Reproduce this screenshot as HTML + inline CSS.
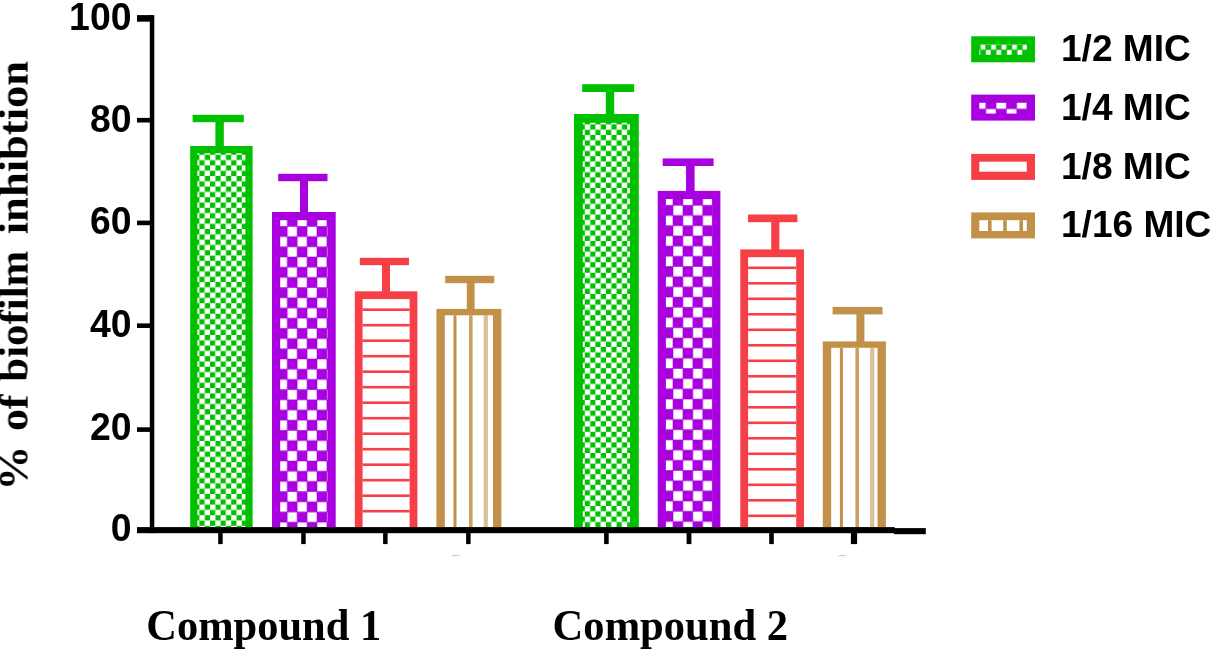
<!DOCTYPE html>
<html><head><meta charset="utf-8"><title>Biofilm inhibition</title>
<style>
html,body{margin:0;padding:0;background:#fff;}
svg{display:block}
.s{font-family:"Liberation Sans",sans-serif;font-weight:bold;fill:#000}
.t{font-family:"Liberation Serif",serif;font-weight:bold;fill:#000}
</style></head><body>
<svg width="1213" height="649" viewBox="0 0 1213 649">
<defs>
<filter id="bl" x="-5%" y="-5%" width="110%" height="110%"><feGaussianBlur stdDeviation="0.6"/></filter>
<filter id="bt" x="-5%" y="-5%" width="110%" height="110%"><feGaussianBlur stdDeviation="0.75"/></filter>
</defs>
<rect width="1213" height="649" fill="#fff"/>
<g filter="url(#bl)">

<rect x="190.2" y="146.0" width="62.4" height="381.5" fill="#00c000"/>
<pattern id="p1" patternUnits="userSpaceOnUse" width="10.6" height="10.6" patternTransform="translate(199.4,154.8)"><rect x="-0.10000000000000009" y="-0.10000000000000009" width="5.5" height="5.5" fill="#fff"/><rect x="5.199999999999999" y="5.199999999999999" width="5.5" height="5.5" fill="#fff"/></pattern>
<rect x="197.4" y="153.2" width="48.0" height="374.3" fill="url(#p1)"/>
<rect x="192.6" y="114.8" width="51.2" height="7.4" fill="#00c000"/>
<rect x="215.4" y="117.8" width="8.4" height="29.2" fill="#00c000"/>
<rect x="272.0" y="212.0" width="63.7" height="315.5" fill="#a906e0"/>
<pattern id="p2" patternUnits="userSpaceOnUse" width="19.8" height="20.4" patternTransform="translate(277.4,216.2)"><rect x="0.3" y="0.3" width="9.3" height="9.6" fill="#fff"/><rect x="10.200000000000001" y="10.5" width="9.3" height="9.6" fill="#fff"/></pattern>
<rect x="280.2" y="220.2" width="47.3" height="307.3" fill="url(#p2)"/>
<rect x="278.2" y="173.8" width="49.3" height="7.4" fill="#a906e0"/>
<rect x="300.0" y="176.8" width="8.0" height="36.2" fill="#a906e0"/>
<rect x="354.8" y="291.3" width="62.6" height="236.2" fill="#f54046"/>
<rect x="362.6" y="299.1" width="47.0" height="228.4" fill="#fff"/>
<rect x="362.6" y="308.4" width="47.0" height="2.6" fill="#f54046"/>
<rect x="362.6" y="323.9" width="47.0" height="2.6" fill="#f54046"/>
<rect x="362.6" y="339.4" width="47.0" height="2.6" fill="#f54046"/>
<rect x="362.6" y="354.9" width="47.0" height="2.6" fill="#f54046"/>
<rect x="362.6" y="370.4" width="47.0" height="2.6" fill="#f54046"/>
<rect x="362.6" y="385.9" width="47.0" height="2.6" fill="#f54046"/>
<rect x="362.6" y="401.4" width="47.0" height="2.6" fill="#f54046"/>
<rect x="362.6" y="416.9" width="47.0" height="2.6" fill="#f54046"/>
<rect x="362.6" y="432.4" width="47.0" height="2.6" fill="#f54046"/>
<rect x="362.6" y="447.9" width="47.0" height="2.6" fill="#f54046"/>
<rect x="362.6" y="463.4" width="47.0" height="2.6" fill="#f54046"/>
<rect x="362.6" y="478.9" width="47.0" height="2.6" fill="#f54046"/>
<rect x="362.6" y="494.4" width="47.0" height="2.6" fill="#f54046"/>
<rect x="362.6" y="509.9" width="47.0" height="2.6" fill="#f54046"/>
<rect x="359.8" y="257.8" width="49.2" height="7.4" fill="#f54046"/>
<rect x="382.0" y="260.8" width="8.0" height="31.5" fill="#f54046"/>
<rect x="436.4" y="308.9" width="65.0" height="218.6" fill="#c1914a"/>
<rect x="444.8" y="315.3" width="48.2" height="212.2" fill="#fff"/>
<rect x="453.5" y="315.3" width="3.0" height="212.2" fill="#c1914a" opacity="1.0"/>
<rect x="469.0" y="315.3" width="3.6" height="212.2" fill="#c1914a" opacity="0.85"/>
<rect x="483.7" y="315.3" width="4.2" height="212.2" fill="#c1914a" opacity="0.58"/>
<rect x="445.2" y="275.8" width="49.1" height="7.4" fill="#c1914a"/>
<rect x="466.8" y="278.8" width="7.8" height="31.1" fill="#c1914a"/>
<rect x="574.0" y="114.0" width="64.8" height="413.5" fill="#00c000"/>
<pattern id="p5" patternUnits="userSpaceOnUse" width="10.6" height="10.6" patternTransform="translate(584.8,124.4)"><rect x="-0.10000000000000009" y="-0.10000000000000009" width="5.5" height="5.5" fill="#fff"/><rect x="5.199999999999999" y="5.199999999999999" width="5.5" height="5.5" fill="#fff"/></pattern>
<rect x="582.8" y="122.8" width="47.2" height="404.7" fill="url(#p5)"/>
<rect x="582.2" y="84.2" width="52.0" height="7.8" fill="#00c000"/>
<rect x="605.8" y="87.2" width="8.4" height="27.8" fill="#00c000"/>
<rect x="657.7" y="190.9" width="62.7" height="336.6" fill="#a906e0"/>
<pattern id="p6" patternUnits="userSpaceOnUse" width="19.8" height="20.4" patternTransform="translate(663.1,195.1)"><rect x="0.3" y="0.3" width="9.3" height="9.6" fill="#fff"/><rect x="10.200000000000001" y="10.5" width="9.3" height="9.6" fill="#fff"/></pattern>
<rect x="665.9" y="199.1" width="46.3" height="328.4" fill="url(#p6)"/>
<rect x="662.7" y="158.4" width="50.9" height="7.6" fill="#a906e0"/>
<rect x="686.0" y="161.4" width="8.6" height="30.5" fill="#a906e0"/>
<rect x="740.3" y="249.4" width="63.7" height="278.1" fill="#f54046"/>
<rect x="748.1" y="257.2" width="48.1" height="270.3" fill="#fff"/>
<rect x="748.1" y="266.5" width="48.1" height="2.6" fill="#f54046"/>
<rect x="748.1" y="282.0" width="48.1" height="2.6" fill="#f54046"/>
<rect x="748.1" y="297.5" width="48.1" height="2.6" fill="#f54046"/>
<rect x="748.1" y="313.0" width="48.1" height="2.6" fill="#f54046"/>
<rect x="748.1" y="328.5" width="48.1" height="2.6" fill="#f54046"/>
<rect x="748.1" y="344.0" width="48.1" height="2.6" fill="#f54046"/>
<rect x="748.1" y="359.5" width="48.1" height="2.6" fill="#f54046"/>
<rect x="748.1" y="375.0" width="48.1" height="2.6" fill="#f54046"/>
<rect x="748.1" y="390.5" width="48.1" height="2.6" fill="#f54046"/>
<rect x="748.1" y="406.0" width="48.1" height="2.6" fill="#f54046"/>
<rect x="748.1" y="421.5" width="48.1" height="2.6" fill="#f54046"/>
<rect x="748.1" y="437.0" width="48.1" height="2.6" fill="#f54046"/>
<rect x="748.1" y="452.5" width="48.1" height="2.6" fill="#f54046"/>
<rect x="748.1" y="468.0" width="48.1" height="2.6" fill="#f54046"/>
<rect x="748.1" y="483.5" width="48.1" height="2.6" fill="#f54046"/>
<rect x="748.1" y="499.0" width="48.1" height="2.6" fill="#f54046"/>
<rect x="748.1" y="514.5" width="48.1" height="2.6" fill="#f54046"/>
<rect x="748.0" y="214.5" width="49.4" height="7.7" fill="#f54046"/>
<rect x="771.2" y="217.5" width="8.2" height="32.9" fill="#f54046"/>
<rect x="822.8" y="341.4" width="63.1" height="186.1" fill="#c1914a"/>
<rect x="831.2" y="347.8" width="46.3" height="179.7" fill="#fff"/>
<rect x="839.9" y="347.8" width="3.0" height="179.7" fill="#c1914a" opacity="1.0"/>
<rect x="855.4" y="347.8" width="3.6" height="179.7" fill="#c1914a" opacity="0.85"/>
<rect x="870.1" y="347.8" width="4.2" height="179.7" fill="#c1914a" opacity="0.58"/>
<rect x="832.6" y="306.9" width="49.9" height="7.5" fill="#c1914a"/>
<rect x="856.4" y="309.9" width="8.0" height="32.5" fill="#c1914a"/>
<g fill="#000">
<rect x="149.8" y="15.1" width="4.5" height="518"/>
<rect x="137" y="527.1" width="757.6" height="6.1"/>
<rect x="894" y="528.1" width="31.8" height="6.1"/>
<rect x="137" y="15.1" width="15" height="6.6"/>
<rect x="137" y="117.9" width="14" height="4.6"/>
<rect x="137" y="220.6" width="14" height="4.6"/>
<rect x="137" y="323.4" width="14" height="4.6"/>
<rect x="137" y="427.3" width="14" height="4.6"/>
<rect x="218.2" y="530" width="4.5" height="14.1"/>
<rect x="301.2" y="530" width="4.5" height="14.1"/>
<rect x="383.1" y="530" width="4.5" height="14.1"/>
<rect x="466.1" y="530" width="4.5" height="14.1"/>
<rect x="604.1" y="530" width="4.6" height="14.1"/>
<rect x="686.6" y="530" width="4.8" height="14.1"/>
<rect x="769.2" y="530" width="4.6" height="14.1"/>
<rect x="850.9" y="530" width="6.2" height="14.1"/>
</g>
<rect x="452" y="555" width="7.5" height="1.2" fill="#ccc"/>
<rect x="838.5" y="555" width="7.5" height="1.2" fill="#ccc"/>
<rect x="971.2" y="36.3" width="63.8" height="26" fill="#00c000"/>
<pattern id="l0" patternUnits="userSpaceOnUse" width="10.5" height="10.5" patternTransform="translate(980.4,44.4)"><rect x="0.3" y="0.3" width="4.7" height="4.9" fill="#fff"/><rect x="5.55" y="5.55" width="4.7" height="4.9" fill="#fff"/></pattern>
<rect x="979.3" y="44.1" width="47.5" height="10.8" fill="url(#l0)"/>
<rect x="971.2" y="94.6" width="63.8" height="26" fill="#a906e0"/>
<pattern id="l1" patternUnits="userSpaceOnUse" width="20.6" height="20.4" patternTransform="translate(975.5,98.7)"><rect x="0.3" y="0" width="9.7" height="10" fill="#fff"/><rect x="10.6" y="10.4" width="9.7" height="10" fill="#fff"/></pattern>
<rect x="979.3" y="102.8" width="47.5" height="10.8" fill="url(#l1)"/>
<rect x="971.2" y="153.9" width="63.8" height="26" fill="#f54046"/>
<rect x="979.3" y="161.7" width="47.5" height="10.0" fill="#fff"/>
<rect x="971.2" y="212.4" width="63.8" height="26" fill="#c1914a"/>
<rect x="979.3" y="220.2" width="47.5" height="10.8" fill="#fff"/>
<rect x="988.0" y="220.2" width="3.6" height="10.8" fill="#c1914a"/>
<rect x="1003.2" y="220.2" width="3.6" height="10.8" fill="#c1914a"/>
<rect x="1019.4" y="220.2" width="3.6" height="10.8" fill="#c1914a"/>
</g>
<g filter="url(#bt)">
<text class="s" transform="translate(131.5,541.0) scale(1,1.045)" font-size="37.4" text-anchor="end">0</text>
<text class="s" transform="translate(131.5,439.7) scale(1,1.045)" font-size="37.4" text-anchor="end">20</text>
<text class="s" transform="translate(131.5,337.2) scale(1,1.045)" font-size="37.4" text-anchor="end">40</text>
<text class="s" transform="translate(131.5,234.0) scale(1,1.045)" font-size="37.4" text-anchor="end">60</text>
<text class="s" transform="translate(131.5,131.7) scale(1,1.045)" font-size="37.4" text-anchor="end">80</text>
<text class="s" transform="translate(131.5,29.6) scale(1,1.045)" font-size="37.4" text-anchor="end">100</text>
<text class="s" transform="translate(1061,60.9) scale(1.03,1)" font-size="36">1/2 MIC</text>
<text class="s" transform="translate(1061,120.2) scale(1.03,1)" font-size="36">1/4 MIC</text>
<text class="s" transform="translate(1061,178.6) scale(1.03,1)" font-size="36">1/8 MIC</text>
<text class="s" transform="translate(1061,237.2) scale(1.03,1)" font-size="36">1/16 MIC</text>
<text class="t" transform="translate(146.2,639.8) scale(1,1.055)" font-size="42.5">Compound 1</text>
<text class="t" transform="translate(552.6,639.8) scale(1,1.055)" font-size="42.6">Compound 2</text>
<text class="t" transform="translate(27.4,0) rotate(-90) scale(1,0.92)" font-size="44.8"><tspan x="-490.6">%</tspan> <tspan x="-431.1" textLength="36.6" lengthAdjust="spacingAndGlyphs">of</tspan> <tspan x="-381.7" textLength="131" lengthAdjust="spacingAndGlyphs">biofilm</tspan> <tspan x="-234.3" textLength="173.4" lengthAdjust="spacingAndGlyphs">inhibtion</tspan></text>
</g>
</svg></body></html>
